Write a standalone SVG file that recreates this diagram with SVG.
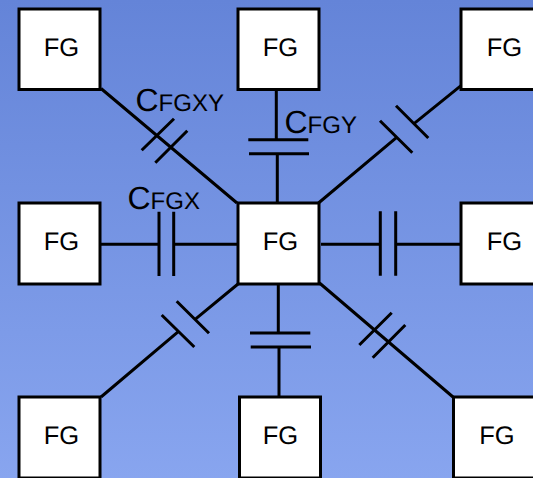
<svg xmlns="http://www.w3.org/2000/svg" width="533" height="478" viewBox="0 0 533 478">
<style>
.n{fill:#fff;stroke:#000;stroke-width:3}
.w{stroke:#000;stroke-width:3;fill:none}
.t{font-family:"Liberation Sans",Arial,sans-serif;font-size:25.5px;fill:#000;text-anchor:middle;text-rendering:geometricPrecision}
.l{font-family:"Liberation Sans",Arial,sans-serif;font-size:24px;fill:#000;text-rendering:geometricPrecision}
.c{font-size:32px}
</style>
<defs><linearGradient id="bg" x1="0" y1="0" x2="0" y2="1"><stop offset="0" stop-color="#6484d8"/><stop offset="1" stop-color="#88a5ef"/></linearGradient></defs>
<rect width="533" height="478" fill="url(#bg)"/>
<g id="connectors" class="w">
<path d="M101 88.5L237 203M141.7 150.3L174 118.7M155.3 162.7L187.3 130.7"/>
<path d="M276.3 90V139.7M248.3 139.7H308.3M249 153.7H309M277.3 153.7V203"/>
<path d="M461 85.7L414.3 123.3M396 105.7L428.3 138M380 120.7L412.3 152.7M396.7 137.3L318.5 203"/>
<path d="M321 244.3H380.3M380.3 211.3V275.7M395.7 211.3V275.7M395.7 244.3H461"/>
<path d="M100 244.3H159M159 211.7V276M173.7 211.7V276M173.7 244.3H238"/>
<path d="M101 397L178.3 331.7M161.7 315L194.3 347M176.7 301.3L209 333.3M196 318.7L238 284"/>
<path d="M278.3 285V333M250 333H310.3M250.7 347H311M279 347V397"/>
<path d="M319.5 283L453 397M359.3 345L391.7 312.7M372.7 357.7L405.3 325"/>
</g>
<g id="fg-top-left"><rect class="n" x="19" y="9" width="81" height="80.5"/><text class="t" x="61.5" y="55.5">FG</text></g>
<g id="fg-top-center"><rect class="n" x="238" y="9" width="81" height="80.5"/><text class="t" x="280.5" y="55.5">FG</text></g>
<g id="fg-top-right"><rect class="n" x="461" y="9" width="81" height="80.5"/><text class="t" x="504.5" y="55.5">FG</text></g>
<g id="fg-mid-left"><rect class="n" x="19" y="203" width="81" height="81"/><text class="t" x="61.5" y="249.5">FG</text></g>
<g id="fg-center"><rect class="n" x="238" y="203" width="81" height="81"/><text class="t" x="280.5" y="249.5">FG</text></g>
<g id="fg-mid-right"><rect class="n" x="461" y="203" width="81" height="81"/><text class="t" x="504.5" y="249.5">FG</text></g>
<g id="fg-bottom-left"><rect class="n" x="19" y="397" width="81" height="81"/><text class="t" x="61.5" y="443.5">FG</text></g>
<g id="fg-bottom-center"><rect class="n" x="239.5" y="397" width="81" height="81"/><text class="t" x="280.5" y="443.5">FG</text></g>
<g id="fg-bottom-right"><rect class="n" x="453.5" y="397" width="81" height="81"/><text class="t" x="497" y="443.5">FG</text></g>
<g id="labels">
<text class="l" x="135.5" y="110.7"><tspan class="c">C</tspan>FGXY</text>
<text class="l" x="284.5" y="133.3"><tspan class="c">C</tspan>FGY</text>
<text class="l" x="127.5" y="209"><tspan class="c">C</tspan>FGX</text>
</g>
</svg>
